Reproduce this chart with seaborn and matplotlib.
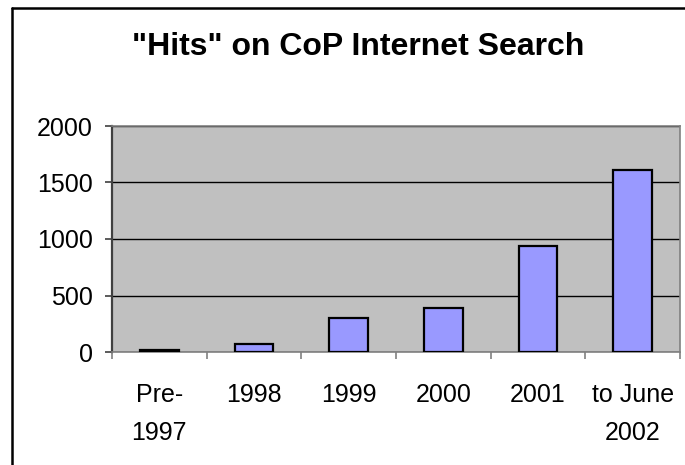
import matplotlib
matplotlib.use("Agg")
import matplotlib.pyplot as plt
import seaborn as sns
import pandas as pd
from matplotlib.lines import Line2D
from matplotlib.ticker import FixedLocator

categories = ["Pre-\n1997", "1998", "1999", "2000", "2001", "to June\n2002"]
hits = [20, 70, 300, 390, 940, 1610]
yticks = [0, 500, 1000, 1500, 2000]
title = '"Hits" on CoP Internet Search'

sns.set_theme(style="white")
plt.rcParams["font.family"] = ["Liberation Sans", "DejaVu Sans"]
plt.rcParams["text.color"] = "black"

df = pd.DataFrame({"period": categories, "hits": hits})

W, H = 685, 465
fig = plt.figure(figsize=(W / 100, H / 100), dpi=100)
fig.patch.set_facecolor("white")
ax = fig.add_axes([112 / W, 1 - 352 / H, (680 - 112) / W, (352 - 126) / H])
ax.set_facecolor("#C0C0C0")

sns.barplot(data=df, x="period", y="hits", color="#9999FF", width=0.41,
            edgecolor="black", linewidth=1.6, saturation=1, ax=ax, zorder=3)

ax.set_xlim(-0.5, len(categories) - 0.5)
ax.set_ylim(0, 2000)
ax.set_yticks(yticks)
ax.set_yticklabels([str(v) for v in yticks], fontsize=18)
ax.yaxis.grid(True, color="black", linewidth=1.0, zorder=1)
ax.set_axisbelow(True)
ax.set_xlabel("")
ax.set_ylabel("")

ax.set_xticks(range(len(categories)))
ax.set_xticklabels(categories, fontsize=18, linespacing=1.75)
ax.xaxis.set_minor_locator(FixedLocator([i - 0.5 for i in range(len(categories) + 1)]))
ax.tick_params(axis="x", which="major", length=0, pad=22, labelcolor="black")
ax.tick_params(axis="x", which="minor", length=5, width=1.2, color="#808080", bottom=True)
ax.tick_params(axis="y", which="major", length=5, width=1.2, color="#404040", pad=9,
               left=True, labelcolor="black")

for s in ["top", "right"]:
    ax.spines[s].set_color("#808080")
    ax.spines[s].set_linewidth(1.2)
ax.spines["left"].set_color("#404040")
ax.spines["left"].set_linewidth(1.6)
ax.spines["bottom"].set_color("#808080")
ax.spines["bottom"].set_linewidth(1.2)

fig.text(358 / W, 1 - 47 / H, title, ha="center", va="center",
         fontsize=23, fontweight="bold", color="black")

# outer chart frame (only top and left edges visible)
fig.add_artist(Line2D([11.5 / W, 1.0], [1 - 8 / H, 1 - 8 / H], transform=fig.transFigure,
                      color="black", linewidth=1.8))
fig.add_artist(Line2D([11.5 / W, 11.5 / W], [0, 1 - 8 / H], transform=fig.transFigure,
                      color="black", linewidth=1.8))

fig.savefig("out.png", dpi=100)
